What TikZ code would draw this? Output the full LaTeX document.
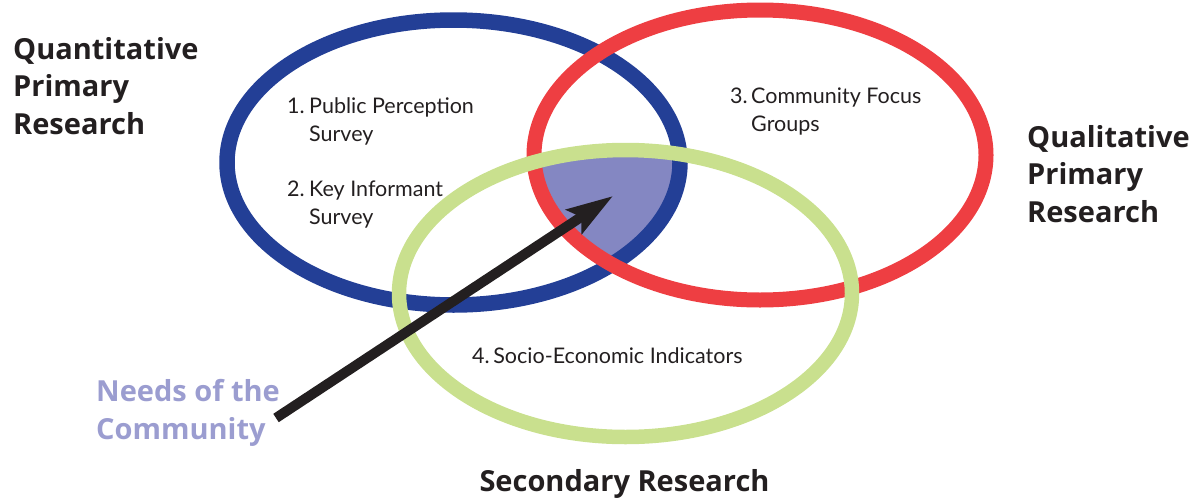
\documentclass[tikz,border=0pt]{standalone}
\usepackage{fontspec}
\setmainfont{Lato}
\newfontfamily\headfont{Open Sans}
\usetikzlibrary{arrows.meta}

\definecolor{quantblue}{HTML}{233F96}
\definecolor{qualred}{HTML}{EE3E42}
\definecolor{secgreen}{HTML}{C9E08E}
\definecolor{needsfill}{HTML}{8487C2}
\definecolor{needstext}{HTML}{9B9DD0}
\definecolor{arrowblack}{HTML}{231F20}

\tikzset{
  ring/.style={line width=15pt},
  heading/.style={font=\headfont\fontsize{29}{37.5}\selectfont\bfseries, align=left, inner sep=0pt, text=arrowblack},
  item/.style={font=\fontsize{21.5}{28}\selectfont, align=left, inner sep=0pt, anchor=west, text=arrowblack},
  pointer/.style={line width=10pt, arrowblack, -{Stealth[length=46pt,width=28pt,inset=8pt]}}
}

\begin{document}
\begin{tikzpicture}[x=1pt,y=-1pt]
\useasboundingbox (0,0) rectangle (1199,501);

% centres of the three circles
\coordinate (quant) at (453.5,162.5);
\coordinate (qual) at (760,155);
\coordinate (sec) at (625.5,293.5);

% shared part of all three
\begin{scope}
  \clip (quant) ellipse [x radius=226.5pt, y radius=142.5pt];
  \clip (qual) ellipse [x radius=226pt, y radius=145pt];
  \fill[needsfill] (sec) ellipse [x radius=226.5pt, y radius=143.5pt];
\end{scope}

\draw[ring, quantblue, line width=15.5pt] (quant) ellipse [x radius=226.5pt, y radius=142.5pt];
\draw[ring, qualred] (qual) ellipse [x radius=226pt, y radius=145pt];
\draw[ring, secgreen, line width=14.5pt] (sec) ellipse [x radius=226.5pt, y radius=143.5pt];

% labels of the circles
\node[heading, anchor=west] (quantlabel) at (13,86) {Quantitative\\Primary\\Research};
\node[heading, anchor=west] (quallabel) at (1027,174) {Qualitative\\Primary\\Research};
\node[heading] (seclabel) at (624.5,484) {Secondary Research};
\node[heading, anchor=west, text=needstext] (needs) at (96,413) {Needs of the\\Community};

% methods
\node[item] (survey) at (287,121) {\makebox[22pt][l]{1.}Public Perception\\\hspace*{22pt}Survey};
\node[item] (informant) at (287,205) {\makebox[22pt][l]{2.}Key Informant\\\hspace*{22pt}Survey};
\node[item] (focus) at (730,111) {\makebox[21pt][l]{3.}Community Focus\\\hspace*{21pt}Groups};
\node[item] (indicators) at (472,356) {4.\,Socio-Economic Indicators};

% arrow into the middle
\coordinate (tail) at (276,418);
\coordinate (core) at (613,196);
\draw[pointer] (tail) -- (core);
\end{tikzpicture}
\end{document}
